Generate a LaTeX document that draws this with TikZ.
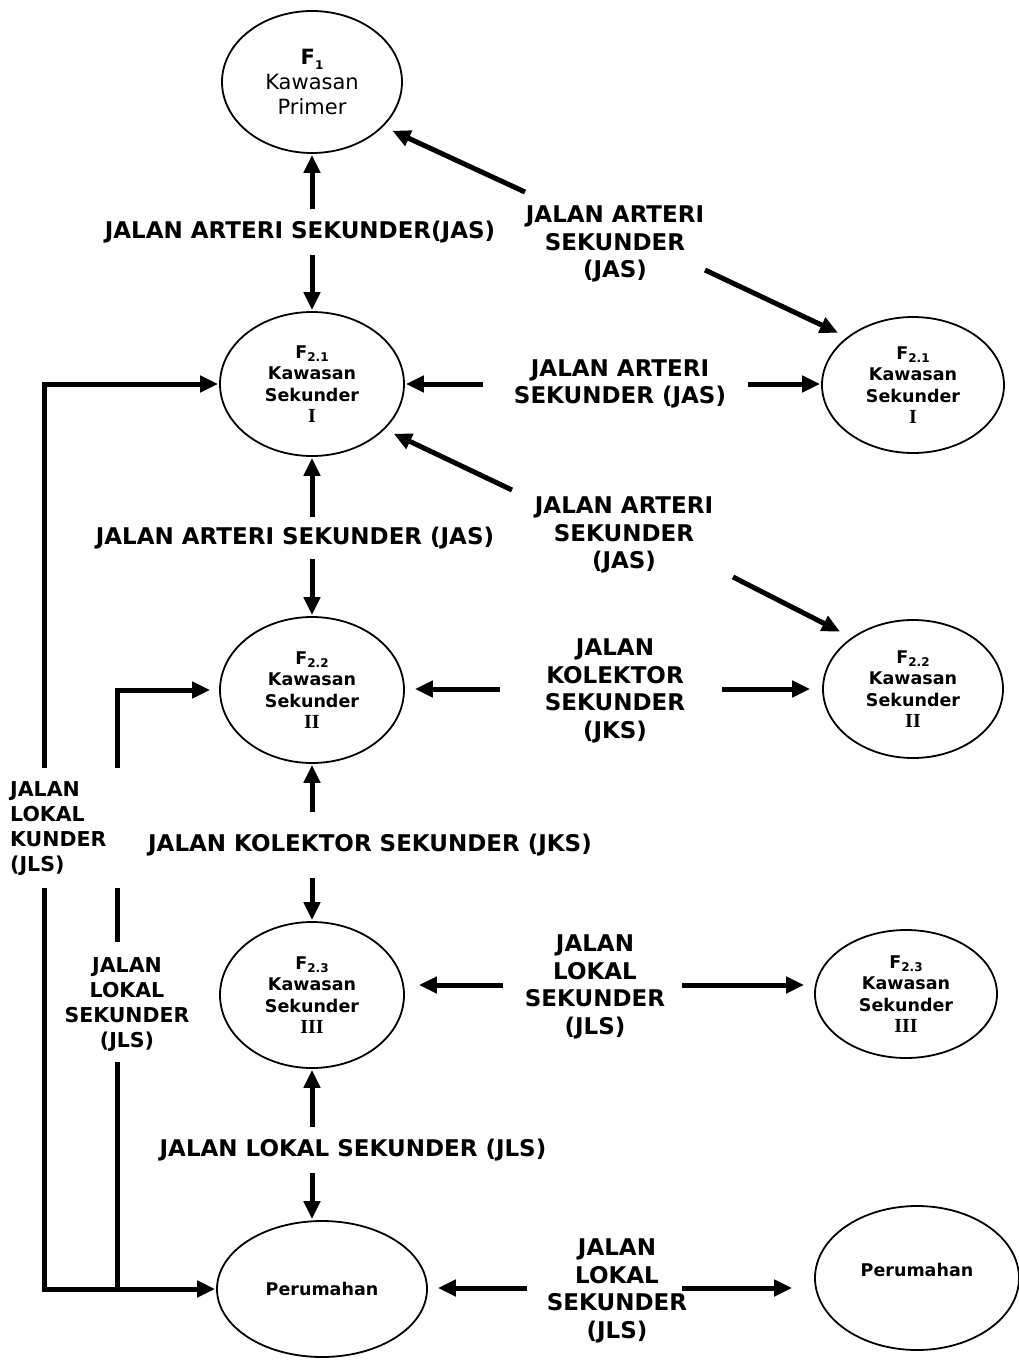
\documentclass[tikz,border=0pt]{standalone}
\usepackage{fontspec}
\setmainfont{DejaVu Sans}
\newfontfamily\romfont{Liberation Serif}
\usetikzlibrary{shapes.geometric,arrows.meta}
\newcommand\Fs[1]{F\raisebox{-0.22em}{\fontsize{12}{12}\selectfont #1}}
\newcommand\Rn[1]{{\romfont\bfseries\fontsize{20}{21.5}\selectfont #1}}
\begin{document}
\begin{tikzpicture}[x=1pt,y=-1pt,line join=miter,
  ell/.style={ellipse,draw,line width=1.8pt,inner sep=0pt},
  etext/.style={font=\bfseries\fontsize{17.5}{21.5}\selectfont,align=center},
  lab/.style={font=\bfseries\fontsize{23}{27.5}\selectfont,align=center,inner sep=2pt},
  smlab/.style={font=\bfseries\fontsize{20.5}{25}\selectfont,inner sep=2pt},
  arr/.style={line width=5pt,-{Triangle[length=18pt,width=16pt]}},
  dbl/.style={line width=5pt,{Triangle[length=18pt,width=16pt]}-{Triangle[length=18pt,width=16pt]}},
  bar/.style={line width=5pt},
]
\useasboundingbox (0,0) rectangle (1018,1363);
% ellipses
\node[ell,minimum width=180pt,minimum height=142pt,font=\fontsize{21}{25}\selectfont,align=center] (f1) at (312,82) {\textbf{\Fs{1}}\\Kawasan\\Primer};
\node[ell,etext,minimum width=184pt,minimum height=144pt] (f21) at (312,384) {\Fs{2.1}\\Kawasan\\Sekunder\\\Rn{I}};
\node[ell,etext,minimum width=182pt,minimum height=136pt] (f21r) at (913,385) {\Fs{2.1}\\Kawasan\\Sekunder\\\Rn{I}};
\node[ell,etext,minimum width=184pt,minimum height=146pt] (f22) at (312,690) {\Fs{2.2}\\Kawasan\\Sekunder\\\Rn{II}};
\node[ell,etext,minimum width=180pt,minimum height=138pt] (f22r) at (913,689) {\Fs{2.2}\\Kawasan\\Sekunder\\\Rn{II}};
\node[ell,etext,minimum width=184pt,minimum height=146pt] (f23) at (312,995) {\Fs{2.3}\\Kawasan\\Sekunder\\\Rn{III}};
\node[ell,etext,minimum width=182pt,minimum height=128pt] (f23r) at (906,994) {\Fs{2.3}\\Kawasan\\Sekunder\\\Rn{III}};
\node[ell,etext,minimum width=210pt,minimum height=136pt] (per) at (322,1289) {Perumahan};
\node[ell,minimum width=204pt,minimum height=144pt] (perr) at (917,1278) {};
\node[etext] (perrt) at (917,1270) {Perumahan};
% vertical double arrows
\draw[dbl,shorten <=1pt,shorten >=1pt] (f1.south) -- (f21.north);
\draw[dbl,shorten <=1pt,shorten >=1pt] (f21.south) -- (f22.north);
\draw[dbl,shorten <=1pt,shorten >=1pt] (f22.south) -- (f23.north);
\draw[dbl,shorten <=1pt,shorten >=1pt] (f23.south) -- (f23.south |- per.north);
\node[lab,fill=white,inner ysep=12pt] (v1) at (300,232) {JALAN ARTERI SEKUNDER(JAS)};
\node[lab,fill=white,inner ysep=10pt] (v2) at (295,538) {JALAN ARTERI SEKUNDER (JAS)};
\node[lab,fill=white,inner ysep=22pt] (v3) at (370,845) {JALAN KOLEKTOR SEKUNDER (JKS)};
\node[lab,fill=white,inner ysep=12pt] (v4) at (353,1150) {JALAN LOKAL SEKUNDER (JLS)};
% side labels
\node[lab] (d1) at (615,244) {JALAN ARTERI\\SEKUNDER\\(JAS)};
\node[lab] (h1) at (620,384) {JALAN ARTERI\\SEKUNDER (JAS)};
\node[lab] (d2) at (624,535) {JALAN ARTERI\\SEKUNDER\\(JAS)};
\node[lab] (h2) at (615,691) {JALAN\\KOLEKTOR\\SEKUNDER\\(JKS)};
\node[lab] (h3) at (595,987) {JALAN\\LOKAL\\SEKUNDER\\(JLS)};
\node[lab] (h4) at (617,1291) {JALAN\\LOKAL\\SEKUNDER\\(JLS)};
\node[smlab,align=left,anchor=west] (l1) at (8,829) {JALAN\\LOKAL\\KUNDER\\(JLS)};
\node[smlab,align=center] (l2) at (127,1005) {JALAN\\LOKAL\\SEKUNDER\\(JLS)};
% diagonal arrows
\coordinate (d1a) at (525,192);
\coordinate (d1b) at (705,270);
\coordinate (d2a) at (512,490);
\coordinate (d2b) at (733,577);
\draw[arr,shorten >=10pt] (d1a) -- (f1.-32);
\draw[arr,shorten >=10pt] (d1b) -- (f21r.144);
\draw[arr,shorten >=10pt] (d2a) -- (f21.-32);
\draw[arr,shorten >=13pt] (d2b) -- (f22r.140);
% horizontal arrows
\coordinate (h1l) at (483,384);
\coordinate (h1r) at (748,384);
\coordinate (h2l) at (500,689);
\coordinate (h2r) at (722,689);
\coordinate (h3l) at (503,985);
\coordinate (h3r) at (682,985);
\coordinate (h4l) at (527,1288);
\coordinate (h4r) at (682,1288);
\draw[arr,shorten >=1pt] (h1l) -- (h1l -| f21.east);
\draw[arr,shorten >=1pt] (h1r) -- (h1r -| f21r.west);
\draw[arr,shorten >=10pt] (h2l) -- (h2l -| f22.east);
\draw[arr,shorten >=12pt] (h2r) -- (h2r -| f22r.west);
\draw[arr,shorten >=14pt] (h3l) -- (h3l -| f23.east);
\draw[arr,shorten >=10pt] (h3r) -- (h3r -| f23r.west);
\draw[arr,shorten >=10pt] (h4l) -- (h4l -| per.east);
\draw[arr,shorten >=22pt] (h4r) -- (h4r -| perr.west);
% left feeder lines
\coordinate (o1) at (44,768);
\coordinate (o2) at (44,888);
\coordinate (i1) at (117,768);
\coordinate (i2) at (117,888);
\coordinate (i3) at (117,942);
\coordinate (i4) at (117,1062);
\draw[arr,shorten >=1pt] (o1) |- (f21.west);
\draw[arr,shorten >=1pt] (o2) |- (per.west);
\draw[arr,shorten >=9pt] (i1) |- (f22.west);
\draw[bar] (i2) -- (i3);
\draw[bar] (i4) -- (i4 |- per.west);
\end{tikzpicture}
\end{document}
